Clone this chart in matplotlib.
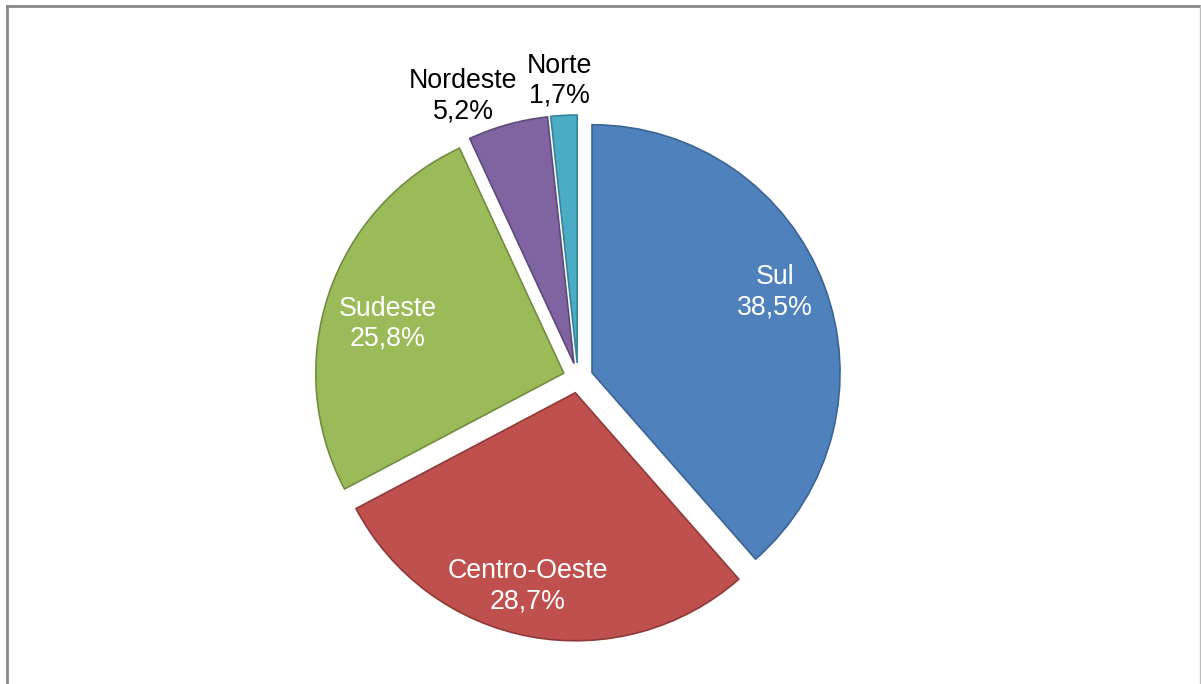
import numpy as np
import matplotlib.pyplot as plt

plt.rcParams['font.family'] = ['Liberation Sans', 'DejaVu Sans']

regioes = ["Sul", "Centro-Oeste", "Sudeste", "Nordeste", "Norte"]
valores = [38.5, 28.7, 25.8, 5.2, 1.7]
cores = ["#4F81BD", "#C0504D", "#9BBB59", "#8064A2", "#4BACC6"]
bordas = ["#3A6496", "#8E3A38", "#728C40", "#5E4A7A", "#36849A"]
cor_texto = ["white", "white", "white", "black", "black"]
# posicao dos rotulos: distancia (fracao do raio) e angulo em graus
dist_rotulo = [0.87, 0.855, 0.80, 1.235, 1.21]
ang_rotulo = [24, -103.7, 163.5, 112, 93.6]

fig = plt.figure(figsize=(12.01, 6.84), dpi=100)
ax = fig.add_axes([0, 0, 1, 1])

cx, cy, r = 578, 306, 248
wedges, _ = ax.pie(valores, colors=cores, startangle=90, counterclock=False,
                   explode=[15] * len(valores), center=(cx, cy), radius=r,
                   wedgeprops=dict(linewidth=1.2), frame=True)
for w, b in zip(wedges, bordas):
    w.set_edgecolor(b)
ax.set_xlim(0, 1201)
ax.set_ylim(0, 684)
ax.set_aspect('equal')
ax.axis('off')

for nome, v, c, d, a in zip(regioes, valores, cor_texto, dist_rotulo, ang_rotulo):
    ang = np.deg2rad(a)
    rot = nome + "\n" + ("%.1f%%" % v).replace(".", ",")
    ax.text(cx + d * r * np.cos(ang), cy + d * r * np.sin(ang) - 2, rot,
            ha='center', va='center', color=c, fontsize=19.3, linespacing=1.2)

# moldura cinza
fig.add_artist(plt.Line2D([6.5 / 1201, 6.5 / 1201], [0, 1 - 5.5 / 684], color="#888888", lw=2))
fig.add_artist(plt.Line2D([6.5 / 1201, 1 - 1.5 / 1201], [1 - 5.5 / 684, 1 - 5.5 / 684], color="#888888", lw=2))
fig.add_artist(plt.Line2D([1 - 1.5 / 1201, 1 - 1.5 / 1201], [0, 1 - 5.5 / 684], color="#bbbbbb", lw=1))

fig.savefig("out.png", dpi=100)
